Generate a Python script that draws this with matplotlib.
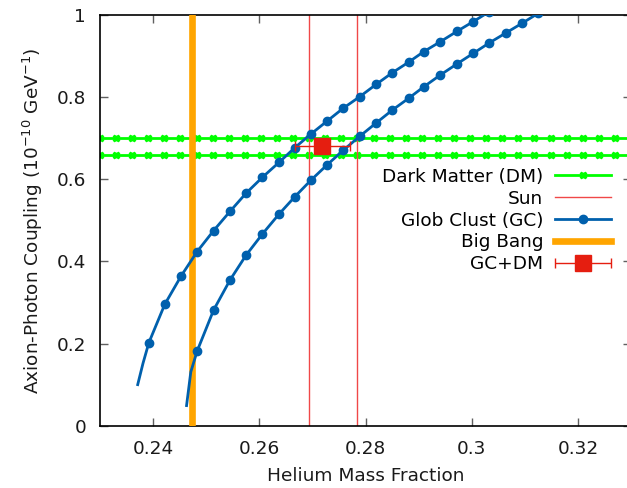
import matplotlib
matplotlib.use("Agg")
import matplotlib.pyplot as plt
import numpy as np
from matplotlib.ticker import FormatStrFormatter
from matplotlib.container import ErrorbarContainer
from matplotlib.legend_handler import HandlerErrorbar

# dark matter band edges (horizontal lines)
dm_levels = [0.66, 0.70]
# sun bounds (vertical lines)
sun_bounds = [0.2694, 0.2784]
# big bang helium fraction
big_bang_y = 0.2473
# combined GC+DM point
gcdm_x = 0.2719
gcdm_y = 0.681
gcdm_xerr = 0.0052

gc1_line_x = [0.2371, 0.2381]
gc1_line_y = [0.100, 0.152]
gc1_x = [0.2392, 0.2422, 0.2453, 0.2483, 0.2514, 0.2545, 0.2575, 0.2606, 0.2637,
         0.2667, 0.2697, 0.2728, 0.2758, 0.2789, 0.2820, 0.2850, 0.2881, 0.2910,
         0.2941, 0.2972, 0.3003, 0.3033]
gc1_y = [0.202, 0.2955, 0.365, 0.424, 0.475, 0.522, 0.566, 0.605, 0.641,
         0.677, 0.710, 0.742, 0.773, 0.801, 0.831, 0.859, 0.885, 0.911,
         0.935, 0.960, 0.984, 1.008]

gc2_line_x = [0.2463, 0.2471]
gc2_line_y = [0.049, 0.131]
gc2_x = [0.2483, 0.2514, 0.2545, 0.2575, 0.2606, 0.2637, 0.2667, 0.2697, 0.2728,
         0.2758, 0.2789, 0.2820, 0.2850, 0.2881, 0.2910, 0.2941, 0.2972, 0.3003,
         0.3033, 0.3064, 0.3095, 0.3125]
gc2_y = [0.182, 0.2817, 0.355, 0.415, 0.467, 0.515, 0.5576, 0.5975, 0.6355,
         0.6705, 0.7046, 0.737, 0.768, 0.797, 0.8254, 0.854, 0.8807, 0.9067,
         0.932, 0.956, 0.980, 1.004]

x_ticks = [0.24, 0.26, 0.28, 0.30, 0.32]
y_ticks = [0, 0.2, 0.4, 0.6, 0.8, 1.0]

XMIN, XMAX = 0.23, 0.33

BLUE = "#0060ad"
GREEN = "#00ff00"
ORANGE = "#ffa500"
SUN_RED = "#f04848"
GCDM_RED = "#e51e10"

plt.rcParams["font.family"] = "DejaVu Sans"
plt.rcParams["font.size"] = 13.3

fig = plt.figure(figsize=(6.27, 4.88), dpi=100)
ax = fig.add_axes([100 / 627, 62.3 / 488, 531 / 627, 410.7 / 488])

# Dark matter
dm_x = np.linspace(XMIN, XMAX, 34)
for i, lvl in enumerate(dm_levels):
    ax.plot(dm_x, [lvl] * len(dm_x), color=GREEN, lw=2, marker="X", ms=5,
            mec=GREEN, zorder=1, label="Dark Matter (DM)" if i == 0 else None)

# Sun
for i, xb in enumerate(sun_bounds):
    ax.axvline(xb, color=SUN_RED, lw=1, zorder=2, label="Sun" if i == 0 else None)

# Big bang
ax.axvline(big_bang_y, color=ORANGE, lw=4.8, zorder=3)

# Glob clust
for lx, ly, dx, dy, lab in [(gc1_line_x, gc1_line_y, gc1_x, gc1_y, "Glob Clust (GC)"),
                            (gc2_line_x, gc2_line_y, gc2_x, gc2_y, None)]:
    ax.plot(lx + dx[:1], ly + dy[:1], color=BLUE, lw=2, zorder=4)
    ax.plot(dx, dy, color=BLUE, lw=2, marker="o", ms=6, zorder=4, label=lab)

ax.plot([], [], color=ORANGE, lw=4.8, label="Big Bang")

# GC+DM
ax.errorbar([gcdm_x], [gcdm_y], xerr=[gcdm_xerr], fmt="s", color=GCDM_RED,
            ms=11, elinewidth=1, capsize=3.5, capthick=1, zorder=5, label="GC+DM")

ax.set_xlim(XMIN, XMAX)
ax.set_ylim(0, 1)
ax.set_xticks(x_ticks)
ax.set_yticks(y_ticks)
ax.xaxis.set_major_formatter(FormatStrFormatter("%g"))
ax.yaxis.set_major_formatter(FormatStrFormatter("%g"))
ax.tick_params(direction="in", length=6, width=1, color="#606060",
               top=True, right=True, labelcolor="#1a1a1a")
ax.tick_params(axis="x", pad=10)
ax.tick_params(axis="y", pad=10)
for s in ax.spines.values():
    s.set_linewidth(1.2)
    s.set_color("black")

ax.set_xlabel("Helium Mass Fraction", labelpad=7, color="#1a1a1a")
ax.set_ylabel("Axion-Photon Coupling (10$^{-10}$ GeV$^{-1}$)", labelpad=8,
              color="#1a1a1a")

ax.legend(loc="upper right", bbox_to_anchor=(0.962, 0.628),
          markerfirst=False, frameon=False, handlelength=3.0, handletextpad=0.65,
          labelspacing=0.21, borderaxespad=0, borderpad=0, fontsize=13.3,
          handler_map={ErrorbarContainer: HandlerErrorbar(xerr_size=1.5)})

fig.savefig("out.png", dpi=100)
